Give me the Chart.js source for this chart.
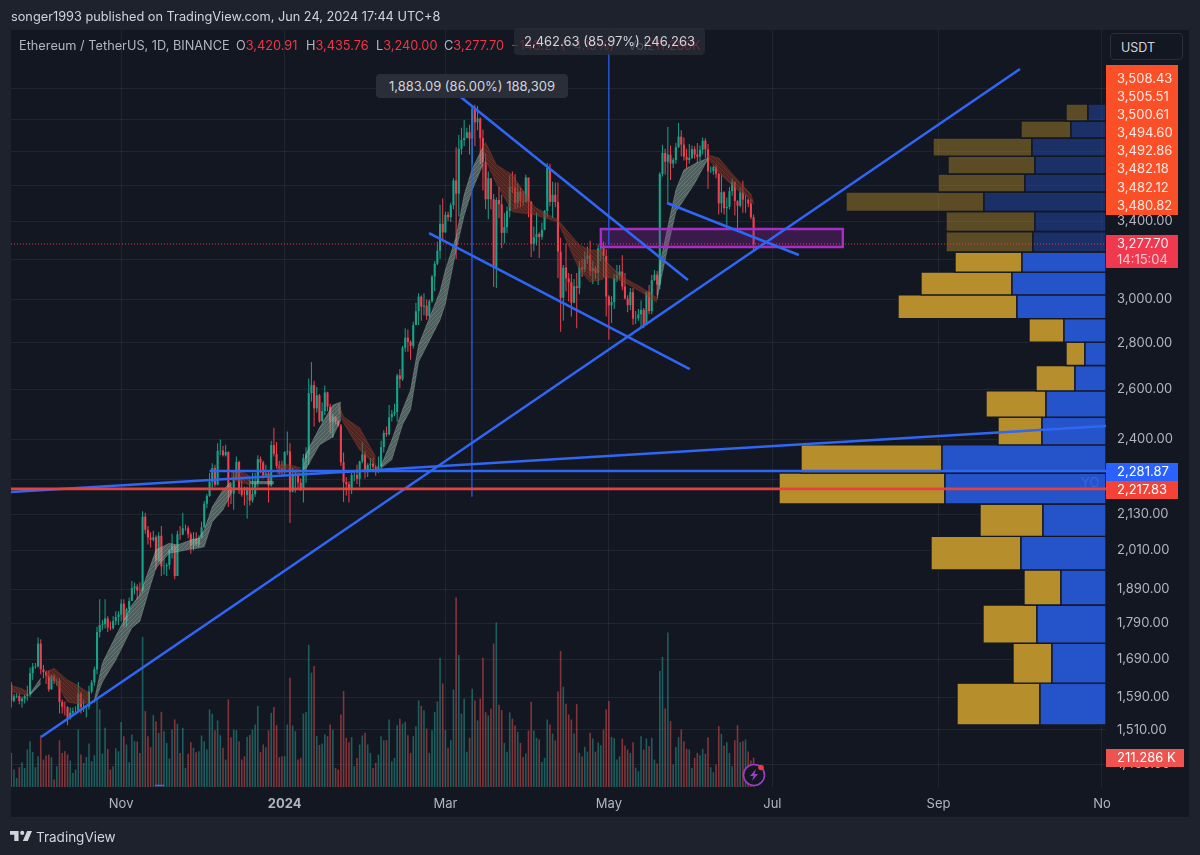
<!DOCTYPE html>
<html>
<head>
<meta charset="utf-8">
<script src="https://cdn.jsdelivr.net/npm/chart.js@4/dist/chart.umd.js"></script>
<style>
html, body { margin: 0; background: #1e222d; overflow: hidden; width: 1200px; height: 855px; }
body { font-family: Inter, sans-serif; color: #d1d4dc; }
.pane { position: absolute; left: 11px; top: 30px; width: 1178px; height: 787px; background: #131722; }
canvas { position: absolute; left: 0; top: 0; }
.t { position: absolute; white-space: nowrap; font-size: 12.75px; line-height: 16px; }
.red { color: #f23645; }
.grey { color: #b2b5be; }
.pill { position: absolute; border-radius: 4px; font-size: 13px; text-align: center; color: #d1d4dc; }
</style>
</head>
<body>
<div class="pane"></div>
<canvas id="chart" width="1200" height="855"></canvas>

<div class="t" style="left:11px;top:9px;color:#d1d4dc">songer1993 published on TradingView.com, Jun 24, 2024 17:44 UTC+8</div>
<div class="t grey" style="left:19px;top:38px">Ethereum / TetherUS, 1D, BINANCE</div>
<div class="t grey" style="left:236px;top:38px">O<span class="red">3,420.91</span></div>
<div class="t grey" style="left:306px;top:38px">H<span class="red">3,435.76</span></div>
<div class="t grey" style="left:376px;top:38px">L<span class="red">3,240.00</span></div>
<div class="t grey" style="left:444px;top:38px">C<span class="red">3,277.70</span></div>
<div class="t red" style="left:511px;top:38px">−143.21 (−4.19%)</div>
<div class="t grey" style="left:628px;top:38px">Vol<span class="red">211.286K</span></div>

<div class="pill" style="left:514px;top:28px;width:191px;height:27px;line-height:27px;background:rgba(42,46,57,.72)">2,462.63 (85.97%) 246,263</div>
<div class="pill" style="left:376px;top:74px;width:192px;height:24px;line-height:24px;background:#2a2e39">1,883.09 (86.00%) 188,309</div>

<div class="t" style="left:1110px;top:33px;width:73px;height:27px;line-height:27px;border:1px solid #2a2e39;border-radius:4px;background:#131722;font-size:12.5px;padding-left:10px;box-sizing:border-box;color:#d1d4dc">USDT</div>
<div class="t" style="left:1081px;top:474px;font-size:13px;color:rgba(70,120,255,.5)">YO</div>

<svg style="position:absolute;left:742px;top:763px" width="26" height="26" viewBox="0 0 26 26">
  <circle cx="12" cy="12" r="10.5" fill="#131722" stroke="#9c3dc8" stroke-width="1.6"/>
  <path d="M14 6 L8 13 H11.5 L10 18 L16 11 H12.5 Z" fill="#9c3dc8"/>
  <circle cx="19" cy="4.5" r="2.8" fill="#f23645"/>
</svg>

<svg style="position:absolute;left:10px;top:830px" width="22" height="12" viewBox="0 0 36 18">
  <path d="M14 1H0v6h7v10h7zM29 17h-8l7-16h8z" fill="#d1d4dc"/>
  <circle cx="20" cy="4" r="3.4" fill="#d1d4dc"/>
</svg>
<div class="t" style="left:36px;top:828px;font-size:13.5px;line-height:18px;color:#d1d4dc">TradingView</div>

<script>
// 1D candles, Sep 21 2023 -> Jun 24 2024
const firstOpen = 1623;
const closes = [
  1582,1593,1594,1581,1587,1594,1599,1653,1670,1671,
  1733,1663,1656,1647,1611,1646,1633,1633,1579,1567,1566,1539,1552,1556,1556,1600,1566,1566,1567,1605,1629,1663,1765,1785,1787,1804,1778,1776,1796,1808,1815,
  1847,1798,1831,1855,1893,1898,1886,1885,2122,2078,2052,2045,2053,1978,2058,1960,1961,1964,2012,2025,1930,2063,2062,2083,2083,2063,2027,2049,2030,2052,
  2086,2166,2193,2243,2293,2233,2357,2358,2340,2352,2224,2202,2260,2315,2220,2197,2196,2218,2177,2200,2240,2326,2313,2266,2273,2230,2378,2345,2300,2292,2281,
  2352,2355,2208,2268,2268,2240,2221,2330,2344,2584,2617,2522,2575,2470,2511,2587,2529,2467,2489,2470,2453,2314,2242,2235,2218,2267,2268,2254,2317,2343,2282,
  2304,2309,2297,2290,2299,2371,2425,2420,2486,2500,2507,2658,2642,2778,2823,2804,2786,2880,2944,3014,2966,2971,2923,2992,3112,3176,3243,3385,3339,
  3434,3421,3487,3627,3552,3815,3868,3882,3917,3878,4064,3980,4004,3880,3735,3520,3640,3520,3158,3516,3492,3336,3367,3455,3590,3587,3500,3562,3510,3507,3645,
  3505,3277,3313,3330,3315,3353,3455,3700,3505,3545,3505,3238,3008,3157,3102,3084,2984,3064,3055,3157,3147,3200,3219,3139,3154,3130,3255,3265,3216,3014,
  2972,2988,3102,3117,3137,3063,3005,2973,3035,2910,2912,2930,2951,2880,3036,2945,3094,3122,3072,3665,3790,3737,3780,3727,3748,3825,3890,3841,3767,3748,3760,
  3813,3780,3767,3810,3865,3812,3680,3681,3706,3665,3497,3560,3470,3478,3566,3620,3511,3484,3558,3518,3518,3496,3420.91,3277.70
];
const highs = [
  1630,1599,1601,1600,1592,1598,1620,1668,1680,1680,
  1750,1745,1675,1660,1660,1650,1650,1640,1640,1585,1580,1568,1565,1565,1568,1630,1605,1585,1572,1620,1635,1670,1780,1860,1800,1860,1810,1795,1810,1825,1825,
  1860,1860,1835,1865,1915,1910,1905,1910,2140,2135,2090,2070,2075,2060,2070,2090,1985,1970,2015,2065,2030,2075,2090,2135,2095,2090,2070,2070,2070,2060,
  2105,2175,2200,2275,2310,2305,2385,2400,2375,2380,2355,2240,2280,2335,2320,2260,2225,2225,2255,2275,2275,2340,2335,2320,2305,2280,2395,2445,2390,2320,2320,
  2355,2430,2385,2295,2285,2265,2255,2345,2370,2645,2715,2635,2610,2580,2545,2615,2590,2540,2500,2485,2475,2460,2350,2260,2245,2275,2280,2305,2320,2390,2355,
  2310,2330,2330,2305,2335,2395,2435,2450,2535,2515,2540,2665,2685,2785,2865,2860,2810,2895,2985,3030,3020,3030,3000,3000,3120,3190,3290,3490,3525,
  3450,3450,3500,3640,3825,3900,3945,3995,3945,3965,4085,4093,4085,4010,3935,3785,3680,3640,3550,3530,3590,3545,3445,3480,3660,3680,3665,3610,3585,3565,3660,
  3640,3510,3370,3445,3340,3390,3460,3730,3725,3620,3615,3615,3310,3170,3280,3130,3125,3100,3130,3190,3200,3240,3265,3295,3190,3165,3275,3300,3290,3250,
  3020,3015,3125,3170,3170,3220,3130,3020,3055,3055,2945,2955,2995,2960,3040,3070,3120,3145,3140,3675,3840,3815,3950,3835,3760,3850,3975,3930,3885,3815,3845,
  3835,3830,3850,3835,3885,3880,3845,3710,3715,3720,3670,3660,3565,3530,3590,3640,3620,3515,3590,3625,3545,3525,3520,3435.76
];
const lows = [
  1565,1578,1588,1573,1565,1575,1582,1592,1635,1665,
  1668,1650,1640,1625,1605,1610,1625,1620,1550,1550,1545,1521,1535,1545,1548,1555,1550,1554,1540,1560,1600,1620,1650,1750,1770,1775,1765,1770,1772,1785,1785,
  1795,1780,1780,1820,1855,1875,1860,1870,1880,2065,2030,2020,2040,1950,1975,1930,1935,1930,1950,1985,1920,1930,2045,2060,2075,2050,2000,2010,2025,2020,
  2050,2085,2150,2190,2220,2225,2230,2340,2335,2335,2155,2165,2145,2250,2200,2190,2160,2115,2160,2170,2190,2225,2275,2255,2260,2170,2225,2335,2290,2270,2265,
  2265,2340,2100,2205,2205,2215,2210,2170,2240,2305,2550,2450,2505,2465,2470,2495,2510,2425,2405,2460,2450,2300,2172,2195,2170,2200,2245,2235,2225,2310,2255,
  2260,2285,2290,2265,2275,2290,2350,2410,2415,2470,2490,2470,2605,2635,2760,2760,2725,2775,2880,2880,2900,2925,2905,2915,2985,3040,3170,3200,3300,
  3335,3400,3395,3465,3200,3425,3780,3830,3880,3780,3720,3830,3930,3725,3570,3465,3410,3465,3060,3055,3415,3255,3280,3335,3420,3555,3465,3470,3475,3485,3500,
  3420,3210,3240,3270,3205,3300,3350,3420,3480,3415,3475,3105,2850,2900,3040,2990,2920,2985,2865,3025,3110,3135,3175,3115,3075,3100,3070,3190,3110,2920,
  2815,2890,2955,3085,3100,3045,3000,2940,2950,2880,2885,2900,2865,2865,2880,2930,2930,3090,3020,3050,3650,3660,3500,3630,3700,3725,3820,3770,3745,3700,3725,
  3755,3755,3730,3740,3780,3760,3580,3670,3660,3640,3435,3445,3435,3365,3465,3540,3430,3355,3475,3445,3445,3475,3410,3240
];
const opens = [firstOpen, ...closes.slice(0, -1)];

// volume in thousands
const volumes = [
  245,125,65,142,178,137,269,329,252,142,221,370,197,226,233,214,53,149,336,245,257,233,190,101,125,413,233,173,216,312,185,228,629,557,240,425,274,125,149,278,257,
  466,365,305,178,377,329,326,245,1078,545,365,286,518,473,389,540,401,317,204,413,485,454,245,425,137,238,322,281,250,257,370,329,269,557,526,408,478,372,281,197,
  629,358,413,408,329,197,221,360,374,413,449,581,252,305,286,408,533,574,444,214,221,
  221,449,785,442,401,197,209,528,538,1020,821,869,365,302,312,377,365,449,413,137,125,521,689,353,322,358,149,209,305,370,389,305,245,
  137,173,233,365,336,336,485,185,209,444,490,454,468,372,245,365,437,622,583,552,420,245,408,538,614,929,744,408,281,
  336,701,1361,948,528,636,254,353,706,622,478,636,929,538,514,562,1030,1181,590,552,317,254,535,490,442,396,317,214,240,406,612,
  406,353,341,180,209,485,449,384,334,686,977,720,598,521,485,384,595,245,221,288,254,389,348,254,319,300,413,557,617,360,
  350,197,221,348,298,269,245,322,139,113,365,269,348,293,353,197,168,833,934,564,1109,473,161,288,358,413,329,274,269,137,209,
  245,228,274,238,358,142,106,161,437,382,298,322,245,149,336,444,322,329,341,255,190,211.286
];

// ribbon segments: day, upper edge, lower edge
const ribbonTrend = ['bear','bull','bear','bull','bear','bull','bear','bull','bear','bull','bear','bull','bear'];
const ribbonDays = [
  [0,3,6],[7,11],[13,16,21,25,29],
  [31,34,39,45,48,52,54,59,62,67,70,72,75,79,82],
  [82,85,89],[89,98],[99,104,108],
  [109,110,115,120,123],[122,124,130,136],
  [138,142,146,149,152,160,162,166,169,172,176],
  [176,177,181,187,195,204,212,216,220,222,228,235,241],
  [241,242,245,248,251,255,260],[260,264,271,276,277]
];
const ribbonUpper = [
  [1620,1615,1606],[1600,1640],[1656,1666,1635,1620,1602],
  [1584,1680,1754,1843,1873,1964,2012,2034,2028,2044,2050,2077,2155,2214,2243],
  [2279,2286,2264],[2244,2244],[2305,2305,2293],
  [2286,2346,2445,2535,2548],[2544,2488,2445,2334],
  [2301,2398,2516,2597,2790,3040,3145,3315,3545,3695,3826],
  [3826,3855,3720,3660,3480,3406,3273,3247,3247,3186,3110,3060,3008],
  [3008,3170,3370,3573,3689,3725,3760],[3778,3760,3631,3550,3500]
];
const ribbonLower = [
  [1605,1600,1596],[1596,1625],[1645,1635,1579,1574,1576],
  [1576,1630,1688,1777,1796,1903,1955,2002,2006,2015,2018,2022,2104,2145,2200],
  [2250,2243,2232],[2236,2236],[2272,2279,2268],
  [2279,2290,2379,2410,2476],[2516,2464,2360,2301],
  [2293,2323,2457,2516,2716,2904,2980,3247,3430,3573,3720],
  [3808,3748,3610,3450,3435,3395,3145,3085,3095,3110,3090,3036,2985],
  [2998,3070,3262,3450,3517,3610,3755],[3760,3670,3573,3517,3490]
];

// volume profile rows, top to bottom
const profileEdges = [4097,3988,3881,3771,3665,3561,3452,3344,3236,3134,3022,2910,2803,2700,2593,2487,2379,2275,2165,2056,1949,1843,1734,1627,1522];
const profileBuy = [18,35,74,71,81,122,71,73,84,94,89,42,21,31,60,64,164,161,63,85,45,69,54,66];
const profileSell = [22,50,99,87,87,138,89,87,67,91,119,35,19,39,60,44,141,166,63,90,37,54,39,83];
const profileDimFrom = 3236;

// drawn lines: [day, price, day, price]
const trendLines = [
  [11.1,1493,376.4,4333],
  [167.7,4144,252.5,3095],
  [155.9,3335,253.2,2685],
  [244.7,3499,293.9,3221],
  [-0.1,2207,408.5,2452],
  [74,2281.87,408.5,2281.87]
];
const measureLines = [[171.9,2190,171.9,4090],[223,3272,223,4438]];
const baseDash = [53.6,1382,57,1382];
const supportLine = 2217.83;
const lastClose = 3277.70;
const boxDays = [220,310.3];
const boxPrices = [3262,3357];

const xTickDays = [41,102,162,223,284,346,407];
const xTickLabels = ['Nov','2024','Mar','May','Jul','Sep','No'];
const priceTicks = [4200,4000,3800,3600,3400,3200,3000,2800,2600,2400,2250,2130,2010,1890,1790,1690,1590,1510,1430];

const alertPrices = ['3,508.43','3,505.51','3,500.61','3,494.60','3,492.86','3,482.18','3,482.12','3,480.82'];
const countdown = '14:15:04';
const volumeLabel = '211.286 K';

const UP = '#16a387', DOWN = '#f0404f';
const FONT = 'Inter, sans-serif';

const days = closes.map((c, i) => i);
const isUp = days.map(i => closes[i] >= opens[i]);
const candleColors = isUp.map(u => u ? UP : DOWN);
const volumeColors = isUp.map(u => u ? 'rgba(38,166,154,.5)' : 'rgba(239,83,80,.5)');

// fine strands inside the ema ribbons
function strands(color, base, rising) {
  const tile = document.createElement('canvas');
  tile.width = 4; tile.height = 4;
  const c = tile.getContext('2d');
  c.fillStyle = base;
  c.fillRect(0, 0, 4, 4);
  c.strokeStyle = color;
  c.lineWidth = 0.6;
  c.beginPath();
  if (rising) { c.moveTo(-1, 5); c.lineTo(5, -1); c.moveTo(-1, 1); c.lineTo(1, -1); c.moveTo(3, 5); c.lineTo(5, 3); }
  else { c.moveTo(-1, -1); c.lineTo(5, 5); c.moveTo(-1, 3); c.lineTo(1, 5); c.moveTo(3, -1); c.lineTo(5, 1); }
  c.stroke();
  return c.createPattern(tile, 'repeat');
}
const bullFill = strands('rgba(205,225,212,.3)', 'rgba(140,170,155,.5)', true);
const bearFill = strands('rgba(200,85,60,.35)', 'rgba(130,55,42,.5)', false);

const datasets = [];

datasets.push({
  type: 'bar', yAxisID: 'yVol', order: 100, grouped: false, barThickness: 1.6, inflateAmount: 0,
  data: days.map(i => ({ x: i, y: volumes[i] })), backgroundColor: volumeColors
});
datasets.push({
  type: 'bar', order: 80, grouped: false, barThickness: 1, inflateAmount: 0,
  data: days.map(i => ({ x: i, y: [lows[i], highs[i]] })), backgroundColor: candleColors
});
datasets.push({
  type: 'bar', order: 70, grouped: false, barThickness: 2.1, inflateAmount: 0,
  data: days.map(i => ({ x: i, y: [opens[i], closes[i]] })), backgroundColor: candleColors
});

ribbonDays.forEach((seg, s) => {
  const bull = ribbonTrend[s] === 'bull';
  const edge = bull ? 'rgba(190,215,200,.4)' : 'rgba(190,80,55,.4)';
  datasets.push({
    type: 'line', order: 60, pointRadius: 0, borderWidth: 0.7, borderColor: edge,
    backgroundColor: bull ? bullFill : bearFill, fill: '+1',
    data: seg.map((d, k) => ({ x: d, y: ribbonUpper[s][k] }))
  });
  datasets.push({
    type: 'line', order: 60, pointRadius: 0, borderWidth: 0.7, borderColor: edge,
    data: seg.map((d, k) => ({ x: d, y: ribbonLower[s][k] }))
  });
});

function rowShape(from, to, lo, hi) {
  return [{ x: from, y: lo }, { x: to, y: lo }, { x: to, y: hi }, { x: from, y: hi }, { x: from, y: lo }];
}
profileBuy.forEach((buy, r) => {
  const hi = profileEdges[r], lo = profileEdges[r + 1];
  const dim = lo >= profileDimFrom;
  const common = {
    type: 'line', xAxisID: 'xProfile', order: 50, pointRadius: 0, fill: 'shape',
    borderWidth: 1.4, borderColor: '#131722'
  };
  datasets.push({ ...common, backgroundColor: dim ? 'rgba(37,83,201,.42)' : '#2553c9', data: rowShape(0, buy, lo, hi) });
  datasets.push({ ...common, backgroundColor: dim ? 'rgba(182,143,44,.45)' : '#b68f2c', data: rowShape(buy, buy + profileSell[r], lo, hi) });
});

datasets.push({
  type: 'line', order: 45, pointRadius: 0, borderWidth: 2.4, borderColor: '#a52fc4',
  backgroundColor: 'rgba(156,39,176,.28)', fill: 'shape',
  data: [
    { x: boxDays[0], y: boxPrices[0] }, { x: boxDays[1], y: boxPrices[0] },
    { x: boxDays[1], y: boxPrices[1] }, { x: boxDays[0], y: boxPrices[1] }, { x: boxDays[0], y: boxPrices[0] }
  ]
});

datasets.push({
  type: 'line', order: 40, pointRadius: 0, borderWidth: 1, borderColor: '#f23645', borderDash: [1, 2],
  data: [{ x: -0.1, y: lastClose }, { x: 408.5, y: lastClose }]
});

measureLines.forEach(l => datasets.push({
  type: 'line', order: 35, pointRadius: 0, borderWidth: 1.2, borderColor: '#2962ff',
  data: [{ x: l[0], y: l[1] }, { x: l[2], y: l[3] }]
}));
trendLines.forEach(l => datasets.push({
  type: 'line', order: 30, pointRadius: 0, borderWidth: 2.6, borderColor: '#2f66f5',
  data: [{ x: l[0], y: l[1] }, { x: l[2], y: l[3] }]
}));
datasets.push({
  type: 'line', order: 30, pointRadius: 0, borderWidth: 1.5, borderColor: '#5a5cf0',
  data: [{ x: baseDash[0], y: baseDash[1] }, { x: baseDash[2], y: baseDash[3] }]
});
datasets.push({
  type: 'line', order: 25, pointRadius: 0, borderWidth: 2.6, borderColor: '#e5423f',
  data: [{ x: -0.1, y: supportLine }, { x: 408.5, y: supportLine }]
});

// price labels stacked on the right axis
const badges = {
  id: 'badges',
  afterDraw(chart) {
    const { ctx, chartArea } = chart;
    const x = chartArea.right, w = 72, tx = x + 11;
    const yScale = chart.scales.y;
    ctx.save();
    ctx.textBaseline = 'middle';
    ctx.font = '13px ' + FONT;
    const box = (y, h, color, width) => {
      ctx.fillStyle = color;
      ctx.fillRect(x, y, width || w, h);
    };
    const label = (text, y, color) => {
      ctx.fillStyle = color || '#ffffff';
      ctx.fillText(text, tx, y);
    };
    box(65, 150, '#fb5027');
    alertPrices.forEach((p, i) => label(p, 79 + i * 18.1, '#fbe9e4'));

    const cy = yScale.getPixelForValue(lastClose);
    box(cy - 9, 33, '#f0384f');
    label('3,277.70', cy, '#fdeef0');
    label(countdown, cy + 16, '#fbc9cf');

    box(463, 18, '#2962ff');
    label('2,281.87', 472, '#ffffff');
    box(481, 18, '#f44336');
    label('2,217.83', 490, '#ffffff');

    box(749, 18, '#ef5350', 78);
    label(volumeLabel, 758, '#ffffff');
    ctx.restore();
  }
};

new Chart(document.getElementById('chart'), {
  type: 'bar',
  data: { datasets },
  plugins: [badges],
  options: {
    responsive: false,
    animation: false,
    events: [],
    layout: { padding: { left: 11, right: 11, top: 30, bottom: 38 } },
    plugins: { legend: { display: false }, tooltip: { enabled: false } },
    scales: {
      x: {
        type: 'linear', min: -0.1, max: 408.5, offset: false,
        grid: { color: 'rgba(130,135,150,.13)', drawTicks: false, offset: false },
        border: { display: false },
        afterBuildTicks: s => { s.ticks = xTickDays.map(v => ({ value: v })); },
        afterFit: s => { s.height = 30; },
        ticks: {
          padding: 9, autoSkip: false, maxRotation: 0, color: '#b2b5be',
          font: c => ({ family: FONT, size: 13, weight: c.index === 1 ? '700' : '400' }),
          callback: (v, i) => xTickLabels[i]
        }
      },
      xProfile: { type: 'linear', display: false, reverse: true, min: 0, max: 1095, offset: false, grid: { display: false } },
      y: {
        type: 'logarithmic', position: 'right', min: 1378.6, max: 4611,
        grid: { color: 'rgba(130,135,150,.13)', drawTicks: false },
        border: { display: false },
        afterBuildTicks: s => { s.ticks = priceTicks.map(v => ({ value: v })); },
        afterFit: s => { s.width = 83; },
        ticks: {
          padding: 11, autoSkip: false, crossAlign: 'near', color: '#b2b5be',
          font: { family: FONT, size: 13 },
          callback: v => v.toLocaleString('en-US', { minimumFractionDigits: 2, maximumFractionDigits: 2 })
        }
      },
      yVol: { type: 'linear', display: false, min: 0, max: 5436, grid: { display: false } }
    }
  }
});
</script>
</body>
</html>
